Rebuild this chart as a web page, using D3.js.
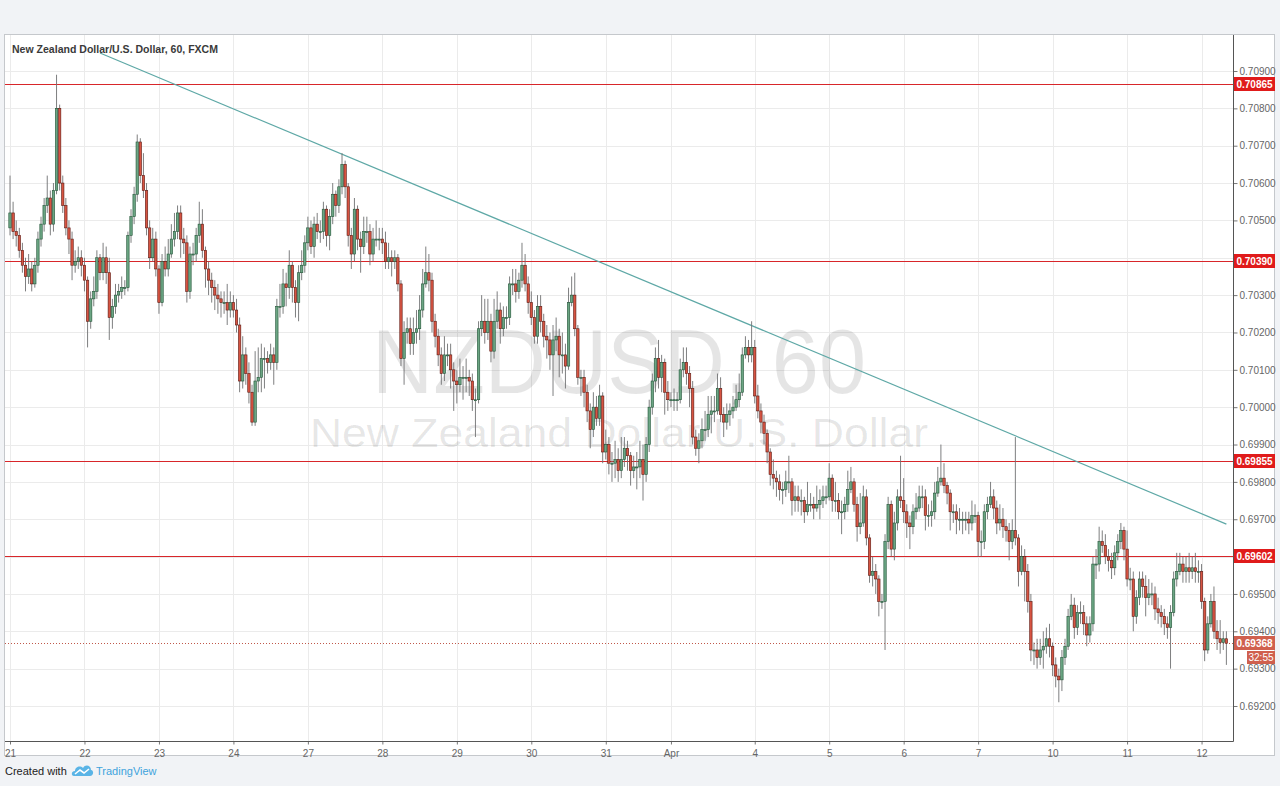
<!DOCTYPE html>
<html><head><meta charset="utf-8">
<script src="https://cdn.jsdelivr.net/npm/d3@7"></script>
<style>
html,body{margin:0;padding:0;background:#f1f3f6;}
svg{display:block;font-family:"Liberation Sans",Arial,sans-serif;}
</style></head><body>
<svg id="c" width="1280" height="786"></svg>
<script>
// ---- data (NZDUSD, 60 min) ----
const open0 = .7048;
const closes = [
.7052,.7047,.7046,.7042,.7038,.7035,.7037,.7033,.7038,.7045,.7049,.7054,.7056,.7049,.7058,.7080,.7060,.7054,.7048,.7045,.7038,.7039,.7040,.7038,
.7034,.7023,.7029,.7031,.7040,.7036,.7040,.7036,.7024,.7027,.7030,.7031,.7032,.7032,.7046,.7051,.7057,.7071,.7062,.7058,.7048,.7040,.7045,.7037,
.7028,.7039,.7037,.7041,.7045,.7047,.7052,.7045,.7044,.7031,.7041,.7041,.7046,.7049,.7042,.7037,.7034,.7032,.7030,.7029,.7028,.7028,.7026,.7028,
.7026,.7022,.7007,.7014,.7009,.7004,.6996,.7007,.7008,.7013,.7013,.7012,.7014,.7012,.7027,.7027,.7033,.7032,.7038,.7032,.7028,.7036,.7038,.7044,
.7048,.7043,.7049,.7047,.7047,.7053,.7046,.7051,.7057,.7054,.7059,.7065,.7059,.7046,.7041,.7053,.7045,.7043,.7047,.7047,.7041,.7045,.7045,.7045,
.7044,.7039,.7040,.7039,.7040,.7033,.7013,.7020,.7021,.7017,.7020,.7021,.7026,.7033,.7036,.7034,.7023,.7019,.7014,.7009,.7014,.7014,.7010,.7007,
.7006,.7008,.7008,.7008,.7007,.7002,.7002,.7021,.7023,.7020,.7023,.7015,.7023,.7026,.7021,.7024,.7024,.7033,.7033,.7031,.7034,.7038,.7033,.7028,
.7024,.7019,.7027,.7023,.7019,.7018,.7014,.7018,.7019,.7014,.7014,.7011,.7028,.7030,.7021,.7008,.7008,.7004,.6999,.6994,.7000,.6997,.7003,.6988,
.6990,.6985,.6985,.6986,.6983,.6986,.6989,.6987,.6983,.6984,.6984,.6986,.6982,.6990,.7000,.7007,.7013,.7008,.7012,.7004,.7002,.7002,.7002,.7002,
.7010,.7012,.7009,.7005,.6992,.6989,.6991,.6994,.6994,.6998,.6999,.6999,.7005,.6998,.6996,.6998,.6999,.7000,.7002,.7004,.7014,.7016,.7014,.7016,
.7003,.6999,.6996,.6993,.6988,.6982,.6981,.6980,.6978,.6978,.6980,.6980,.6975,.6976,.6975,.6975,.6972,.6974,.6974,.6973,.6974,.6975,.6976,.6976,
.6981,.6975,.6975,.6972,.6972,.6974,.6978,.6980,.6974,.6968,.6969,.6976,.6965,.6955,.6956,.6954,.6948,.6948,.6964,.6974,.6962,.6969,.6976,.6975,
.6972,.6969,.6968,.6972,.6973,.6976,.6976,.6971,.6971,.6972,.6977,.6980,.6981,.6979,.6977,.6972,.6972,.6970,.6970,.6970,.6970,.6969,.6971,.6971,
.6964,.6964,.6972,.6974,.6976,.6973,.6969,.6970,.6968,.6967,.6964,.6967,.6965,.6956,.6960,.6956,.6948,.6935,.6935,.6933,.6935,.6936,.6938,.6936,
.6931,.6928,.6927,.6933,.6936,.6944,.6947,.6941,.6945,.6945,.6942,.6939,.6942,.6958,.6958,.6964,.6963,.6960,.6959,.6957,.6961,.6964,.6967,.6962,
.6954,.6954,.6944,.6949,.6954,.6952,.6949,.6950,.6950,.6946,.6945,.6944,.6942,.6941,.6945,.6954,.6956,.6958,.6956,.6957,.6956,.6957,.6956,.6956,
.6948,.6935,.6942,.6948,.6940,.6938,.6937,.6938,.69368];
const highs = [
.7062,.7055,.7050,.7048,.7044,.7040,.7041,.7039,.7040,.7047,.7051,.7056,.7062,.7058,.7060,.7089,.7081,.7062,.7056,.7050,.7047,.7042,.7043,.7042,
.7040,.7035,.7031,.7035,.7042,.7041,.7044,.7043,.7040,.7029,.7033,.7033,.7035,.7034,.7047,.7053,.7059,.7073,.7072,.7068,.7060,.7050,.7048,.7047,
.7038,.7041,.7043,.7045,.7049,.7052,.7054,.7054,.7048,.7046,.7043,.7044,.7048,.7055,.7053,.7043,.7039,.7036,.7034,.7033,.7031,.7031,.7033,.7031,
.7030,.7029,.7024,.7019,.7016,.7012,.7006,.7015,.7016,.7017,.7016,.7015,.7017,.7016,.7029,.7033,.7037,.7036,.7042,.7039,.7034,.7038,.7042,.7046,
.7051,.7050,.7051,.7052,.7050,.7055,.7054,.7053,.7060,.7058,.7061,.7068,.7066,.7060,.7048,.7056,.7054,.7047,.7051,.7051,.7049,.7048,.7050,.7048,
.7048,.7047,.7044,.7042,.7042,.7041,.7034,.7023,.7024,.7024,.7024,.7026,.7030,.7037,.7043,.7041,.7036,.7025,.7021,.7016,.7019,.7017,.7017,.7012,
.7010,.7013,.7011,.7013,.7010,.7009,.7005,.7023,.7030,.7029,.7029,.7025,.7029,.7031,.7028,.7027,.7027,.7035,.7037,.7037,.7036,.7044,.7041,.7035,
.7031,.7026,.7030,.7030,.7025,.7022,.7020,.7022,.7024,.7021,.7020,.7017,.7032,.7035,.7036,.7022,.7010,.7010,.7006,.7001,.7004,.7003,.7006,.7004,
.6994,.6992,.6988,.6991,.6989,.6992,.6992,.6991,.6988,.6987,.6988,.6991,.6990,.6992,.7002,.7009,.7016,.7018,.7014,.7013,.7007,.7004,.7005,.7004,
.7013,.7016,.7016,.7011,.7007,.6994,.6993,.6997,.6999,.7003,.7003,.7003,.7009,.7008,.7000,.7001,.7001,.7003,.7006,.7009,.7016,.7019,.7018,.7023,
.7018,.7006,.7001,.6998,.6994,.6989,.6986,.6983,.6982,.6980,.6983,.6987,.6981,.6979,.6979,.6978,.6976,.6980,.6977,.6976,.6979,.6978,.6979,.6979,
.6985,.6982,.6980,.6977,.6975,.6976,.6983,.6984,.6981,.6976,.6977,.6979,.6978,.6966,.6960,.6958,.6955,.6950,.6966,.6976,.6975,.6972,.6978,.6987,
.6981,.6974,.6971,.6974,.6977,.6979,.6979,.6978,.6974,.6975,.6980,.6984,.6990,.6985,.6980,.6978,.6974,.6974,.6973,.6972,.6972,.6972,.6975,.6974,
.6972,.6967,.6974,.6976,.6980,.6978,.6975,.6974,.6973,.6970,.6969,.6970,.6992,.6966,.6963,.6962,.6958,.6950,.6937,.6938,.6938,.6940,.6941,.6942,
.6937,.6933,.6930,.6935,.6938,.6946,.6950,.6949,.6947,.6948,.6947,.6944,.6944,.6960,.6962,.6968,.6967,.6966,.6962,.6961,.6963,.6966,.6969,.6968,
.6967,.6957,.6956,.6951,.6956,.6956,.6955,.6954,.6953,.6952,.6949,.6947,.6946,.6944,.6947,.6956,.6961,.6961,.6960,.6960,.6961,.6960,.6961,.6959,
.6958,.6949,.6944,.6950,.6952,.6943,.6943,.6940,.6940];
const lows = [
.7046,.7045,.7043,.7040,.7036,.7031,.7033,.7031,.7032,.7036,.7043,.7047,.7052,.7046,.7047,.7057,.7058,.7052,.7046,.7041,.7034,.7036,.7037,.7035,
.7031,.7016,.7021,.7027,.7029,.7034,.7034,.7033,.7018,.7021,.7025,.7028,.7029,.7030,.7031,.7044,.7049,.7055,.7060,.7056,.7046,.7037,.7039,.7035,
.7025,.7027,.7035,.7035,.7040,.7043,.7045,.7040,.7041,.7028,.7029,.7038,.7039,.7044,.7040,.7032,.7030,.7028,.7026,.7025,.7024,.7025,.7022,.7024,
.7024,.7020,.7004,.7005,.7006,.7001,.6995,.6995,.7004,.7004,.7005,.7009,.7010,.7006,.7010,.7024,.7025,.7027,.7029,.7028,.7024,.7023,.7034,.7036,
.7042,.7041,.7040,.7045,.7044,.7045,.7043,.7042,.7049,.7051,.7052,.7057,.7056,.7043,.7037,.7039,.7042,.7036,.7041,.7044,.7038,.7039,.7043,.7042,
.7041,.7037,.7037,.7035,.7037,.7031,.7011,.7006,.7017,.7014,.7014,.7017,.7018,.7024,.7032,.7031,.7020,.7016,.7011,.7006,.7007,.7011,.7005,.6999,
.7001,.7004,.7002,.7004,.7003,.6999,.6992,.7001,.7019,.7017,.7018,.7012,.7013,.7021,.7017,.7019,.7021,.7022,.7030,.7028,.7029,.7032,.7031,.7025,
.7022,.7017,.7017,.7020,.7016,.7013,.7010,.7003,.7015,.7008,.7009,.7005,.7010,.7027,.7019,.7006,.7003,.7000,.6996,.6989,.6992,.6995,.6995,.6985,
.6986,.6982,.6980,.6981,.6980,.6981,.6984,.6983,.6979,.6981,.6978,.6981,.6975,.6980,.6988,.6998,.7004,.7005,.7004,.6998,.6999,.7000,.6999,.6999,
.7001,.7008,.7006,.7000,.6990,.6987,.6985,.6989,.6991,.6992,.6993,.6996,.6998,.6996,.6992,.6994,.6995,.6997,.6999,.7000,.7003,.7013,.7012,.7012,
.7001,.6997,.6993,.6990,.6985,.6979,.6978,.6976,.6975,.6974,.6976,.6977,.6971,.6972,.6972,.6971,.6969,.6971,.6972,.6970,.6972,.6970,.6973,.6974,
.6975,.6972,.6972,.6970,.6966,.6970,.6972,.6977,.6972,.6964,.6966,.6968,.6963,.6953,.6952,.6950,.6944,.6946,.6935,.6962,.6960,.6959,.6967,.6973,
.6969,.6965,.6962,.6966,.6970,.6972,.6973,.6967,.6968,.6968,.6970,.6976,.6979,.6977,.6974,.6967,.6969,.6966,.6967,.6966,.6967,.6966,.6967,.6969,
.6960,.6960,.6962,.6970,.6973,.6970,.6966,.6967,.6965,.6964,.6959,.6962,.6963,.6952,.6955,.6948,.6945,.6932,.6931,.6930,.6931,.6930,.6934,.6933,
.6928,.6925,.6921,.6924,.6931,.6935,.6943,.6938,.6939,.6942,.6939,.6936,.6937,.6940,.6954,.6956,.6961,.6958,.6956,.6954,.6955,.6959,.6962,.6959,
.6952,.6951,.6940,.6942,.6947,.6949,.6944,.6947,.6947,.6943,.6942,.6941,.6939,.6938,.6930,.6944,.6952,.6955,.6953,.6953,.6953,.6954,.6953,.6953,
.6946,.6932,.6934,.6941,.6938,.6935,.6934,.6935,.6931];

const dayLabels = ["21","22","23","24","27","28","29","30","31","Apr","4","5","6","7","10","11","12"];
const dayIndex  = [0,24,48,72,96,120,144,168,192,213,240,264,288,312,336,360,384];
const priceTicks = [0.692,0.693,0.694,0.695,0.696,0.697,0.698,0.699,0.700,0.701,0.702,0.703,0.704,0.705,0.706,0.707,0.708,0.709];
const levels = [0.70865,0.70390,0.69855,0.69602];
const lastPrice = 0.69368;
const countdown = "32:55";
const trendIdx = [29, 392];
const trendPrice = [0.70948, 0.69687];
const title = "New Zealand Dollar/U.S. Dollar, 60, FXCM";
const wmSymbol = "NZDUSD, 60";
const wmName = "New Zealand Dollar/U.S. Dollar";

// ---- layout ----
const svg = d3.select("#c");
const P = {l:5, r:1233, t:35, b:741};
const xs = d3.scaleLinear().domain([0, closes.length-1]).range([10, 10 + (closes.length-1)*3.103]);
const ys = d3.scaleLinear().domain([0.692, 0.709]).range([706, 71]);
const fmt = d3.format(".5f");

svg.append("rect").attr("width",1280).attr("height",786).attr("fill","#f1f3f6");
svg.append("rect").attr("x",4.5).attr("y",34.5).attr("width",1270).attr("height",721)
  .attr("fill","#fff").attr("stroke","#c5c8cc");

svg.append("defs").append("clipPath").attr("id","clip")
  .append("rect").attr("x",P.l).attr("y",P.t).attr("width",P.r-P.l).attr("height",P.b-P.t);

const plot = svg.append("g").attr("clip-path","url(#clip)");

// grid
plot.selectAll(".hg").data(priceTicks).join("rect")
  .attr("x",P.l).attr("width",P.r-P.l).attr("y",d=>Math.round(ys(d))).attr("height",1)
  .attr("fill","#ebebeb");
plot.selectAll(".vg").data(dayIndex).join("rect")
  .attr("y",P.t).attr("height",P.b-P.t).attr("x",d=>Math.round(xs(d))).attr("width",1)
  .attr("fill","#ebebeb");

// watermark
plot.append("text").attr("x",619).attr("y",393).attr("text-anchor","middle")
  .attr("font-size",90).attr("fill","#000").attr("fill-opacity",0.1)
  .attr("textLength",494).attr("lengthAdjust","spacingAndGlyphs").text(wmSymbol);
plot.append("text").attr("x",619).attr("y",447).attr("text-anchor","middle")
  .attr("font-size",40).attr("fill","#000").attr("fill-opacity",0.1)
  .attr("textLength",618).attr("lengthAdjust","spacingAndGlyphs").text(wmName);

// levels (1px solid red)
plot.selectAll(".lv").data(levels).join("rect")
  .attr("x",P.l).attr("width",P.r-P.l).attr("y",d=>Math.round(ys(d))).attr("height",1)
  .attr("fill","#d8262a");

// last price dotted
plot.append("line").attr("x1",P.l).attr("x2",P.r)
  .attr("y1",Math.round(ys(lastPrice))+0.5).attr("y2",Math.round(ys(lastPrice))+0.5)
  .attr("stroke","#c0584a").attr("stroke-dasharray","1,2");

// trendline
plot.append("line")
  .attr("x1",xs(trendIdx[0])).attr("y1",ys(trendPrice[0]))
  .attr("x2",xs(trendIdx[1])).attr("y2",ys(trendPrice[1]))
  .attr("stroke","#5ea8a6").attr("stroke-width",1.2);

// candles
const bars = closes.map((c,i)=>({i, o: i===0?open0:closes[i-1], c, h: highs[i], l: lows[i]}));
const cg = plot.append("g");
cg.selectAll(".wk").data(bars).join("line")
  .attr("x1",d=>xs(d.i)).attr("x2",d=>xs(d.i))
  .attr("y1",d=>ys(d.h)).attr("y2",d=>ys(d.l))
  .attr("stroke","#6f7072").attr("stroke-width",0.9);
cg.selectAll(".bd").data(bars).join("rect")
  .attr("x",d=>xs(d.i)-1.2).attr("width",2.4)
  .attr("y",d=>ys(Math.max(d.o,d.c)))
  .attr("height",d=>Math.max(1,Math.abs(ys(d.o)-ys(d.c))))
  .attr("fill",d=>d.c>=d.o?"#6ba583":"#d75442")
  .attr("stroke",d=>d.c>=d.o?"#225437":"#5b1a13").attr("stroke-width",0.6);

// title
svg.append("text").attr("x",12).attr("y",53).attr("font-size",10.5).attr("font-weight","bold")
  .attr("fill","#3a3a3a").attr("textLength",206).attr("lengthAdjust","spacingAndGlyphs").text(title);

// price axis (labels hidden where a level box covers them, as in the reference)
const ya = svg.append("g").attr("transform",`translate(${P.r+0.5},0)`)
  .call(d3.axisRight(ys).tickValues(priceTicks).tickFormat(fmt).tickSize(4).tickSizeOuter(0));
ya.select(".domain").remove();
ya.selectAll("line").attr("stroke","#777");
ya.selectAll("text").attr("font-size",10).attr("fill","#666").attr("x",6)
  .attr("font-family","Liberation Sans, Arial, sans-serif")
  .style("display",d=>levels.some(v=>Math.abs(ys(v)-ys(d))<12)?"none":null);
svg.append("line").attr("x1",P.r+0.5).attr("x2",P.r+0.5).attr("y1",P.t).attr("y2",P.b+0.5).attr("stroke","#555");

const xa = svg.append("g").attr("transform",`translate(0,${P.b+0.5})`)
  .call(d3.axisBottom(xs).tickValues(dayIndex).tickFormat((d,i)=>dayLabels[i]).tickSize(3).tickSizeOuter(0));
xa.select(".domain").remove();
xa.selectAll("line").attr("stroke","#777");
xa.selectAll("text").attr("font-size",10).attr("fill","#666").attr("dy","0.9em").attr("font-family","Liberation Sans, Arial, sans-serif");
svg.append("line").attr("x1",P.l).attr("x2",P.r+0.5).attr("y1",P.b+0.5).attr("y2",P.b+0.5).attr("stroke","#555");

// level labels on axis
const lg = svg.append("g");
levels.forEach(v=>{
  const y = Math.round(ys(v));
  lg.append("rect").attr("x",P.r+1).attr("y",y-7).attr("width",41).attr("height",14).attr("fill","#e01b1b");
  lg.append("text").attr("x",P.r+21.5).attr("y",y+3.5).attr("text-anchor","middle").attr("font-size",10)
    .attr("font-weight","bold").attr("fill","#fff").text(fmt(v));
});
{
  const y = Math.round(ys(lastPrice));
  lg.append("rect").attr("x",P.r+1).attr("y",y-7).attr("width",41).attr("height",14).attr("fill","#d0604e");
  lg.append("text").attr("x",P.r+21.5).attr("y",y+3.5).attr("text-anchor","middle").attr("font-size",10)
    .attr("font-weight","bold").attr("fill","#fff").text(fmt(lastPrice));
  lg.append("rect").attr("x",P.r+14).attr("y",y+8).attr("width",28).attr("height",13).attr("fill","#d0604e");
  lg.append("text").attr("x",P.r+28).attr("y",y+18).attr("text-anchor","middle").attr("font-size",10)
    .attr("fill","#fff").text(countdown);
}

// footer
svg.append("text").attr("x",5).attr("y",775).attr("font-size",11).attr("fill","#222").text("Created with");
const logo = svg.append("g").attr("transform","translate(72,763)");
logo.append("path").attr("d","M2,13 C-1,13 -1,8 3,8 C3,4 8,2 11,5 C13,1 19,2 19,7 C22,7 22,13 18,13 Z").attr("fill","#5ab4e6");
logo.append("path").attr("d","M3,11 L8,7 L12,10 L17,6").attr("fill","none").attr("stroke","#fff").attr("stroke-width",1.6);
svg.append("text").attr("x",96).attr("y",775).attr("font-size",11).attr("fill","#3ea3dd").text("TradingView");
</script>
</body></html>
